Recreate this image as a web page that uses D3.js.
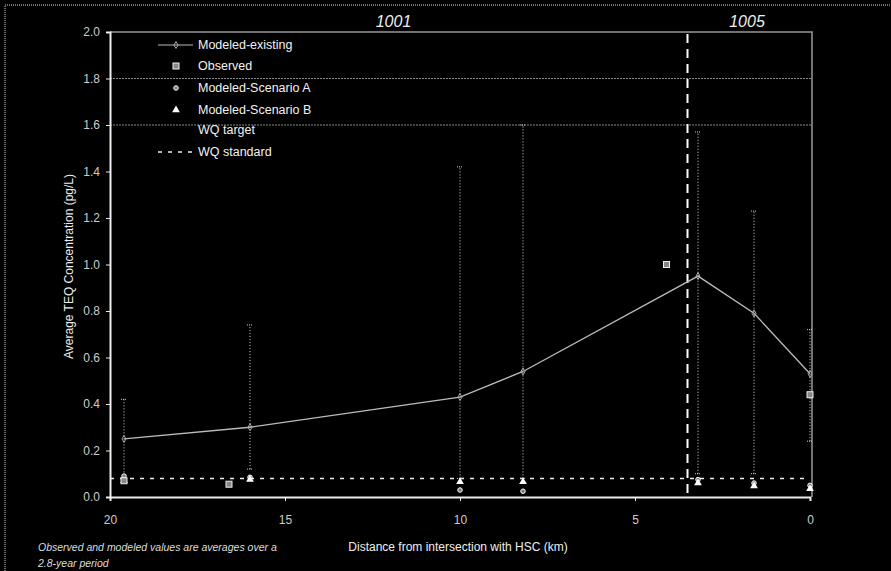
<!DOCTYPE html>
<html>
<head>
<meta charset="utf-8">
<script src="https://cdn.jsdelivr.net/npm/d3@7"></script>
<style>
  body { margin: 0; background: #000; }
  text { font-family: "Liberation Sans", Arial, sans-serif; }
</style>
</head>
<body>
<div id="chart"></div>
<script>
// Data
const modeledDist = [19.6, 16.0, 10.0, 8.2, 3.2, 1.6, 0.0];
const modeledExisting = [0.25, 0.30, 0.43, 0.54, 0.95, 0.79, 0.53];
const errLow = [0.08, 0.12, 0.08, 0.08, 0.10, 0.10, 0.24];
const errHigh = [0.42, 0.74, 1.42, 1.60, 1.57, 1.23, 0.72];

const observedDist = [19.6, 16.6, 4.1, 0.0];
const observed = [0.07, 0.055, 1.0, 0.44];

const scenarioA = [0.09, 0.085, 0.03, 0.025, 0.075, 0.06, 0.05];
const scenarioB = [0.07, 0.075, 0.065, 0.065, 0.06, 0.047, 0.035];

const wqStandard = 0.08;
const gridValues = [1.8, 1.6];
const segmentBreak = 3.5;
const segmentLabels = [{name: "1001", at: 11.9}, {name: "1005", at: 1.8}];

const yTicks = [0, 0.2, 0.4, 0.6, 0.8, 1.0, 1.2, 1.4, 1.6, 1.8, 2.0];
const xTicks = [20, 15, 10, 5, 0];

let width = 891, height = 571;
let margin = {top: 32, bottom: 74, left: 110, right: 81};

let svg = d3.select("#chart")
            .append("svg")
            .attr("width", width)
            .attr("height", height)
            .style("background", "#000");

// outer dotted frame of the scanned page
svg.append("rect")
   .attr("x", 5).attr("y", 5)
   .attr("width", width + 20).attr("height", height + 20)
   .attr("fill", "none")
   .attr("stroke", "#ddd")
   .attr("stroke-dasharray", "1,1");

let x = d3.scaleLinear().domain([20, 0]).range([margin.left, width - margin.right]);
let y = d3.scaleLinear().domain([0, 2]).range([height - margin.bottom, margin.top]);

// plot frame (top and right)
svg.append("path")
   .attr("d", `M${x(20)},${y(2)}H${x(0) + 2}V${y(0)}`)
   .attr("fill", "none")
   .attr("stroke", "#999")
   .attr("stroke-width", 1.5);

// grid lines at 1.8 and 1.6
gridValues.forEach(v => {
  svg.append("line")
     .attr("x1", x(20)).attr("x2", x(0) + 2)
     .attr("y1", y(v)).attr("y2", y(v))
     .attr("stroke", "#8a8a8a")
     .attr("stroke-dasharray", "2,1");
});

// axes
let yaxis = svg.append("g")
               .attr("transform", `translate(${margin.left},0)`)
               .call(d3.axisLeft(y).tickValues(yTicks).tickFormat(d3.format(".1f")).tickSize(4).tickPadding(6));
let xaxis = svg.append("g")
               .attr("transform", `translate(0,${height - margin.bottom})`)
               .call(d3.axisBottom(x).tickValues(xTicks).tickFormat(d3.format("d")).tickSize(4).tickPadding(14));
[yaxis, xaxis].forEach(ax => {
  ax.select(".domain").attr("stroke", "#eee").attr("stroke-width", 2);
  ax.selectAll(".tick line").attr("stroke", "#eee");
  ax.selectAll(".tick text").attr("fill", "#ccc").style("font-size", "12px");
});

// axis titles
svg.append("text")
   .attr("x", 458).attr("y", 551)
   .attr("text-anchor", "middle")
   .attr("fill", "#eee")
   .style("font-size", "12px")
   .text("Distance from intersection with HSC (km)");

svg.append("text")
   .attr("transform", `translate(73,${y(1.0) + 2}) rotate(-90)`)
   .attr("text-anchor", "middle")
   .attr("fill", "#eee")
   .style("font-size", "12px")
   .text("Average TEQ Concentration (pg/L)");

// footnote
svg.append("text")
   .attr("x", 38).attr("y", 551)
   .attr("fill", "#ddd")
   .style("font-size", "10.5px").style("font-style", "italic")
   .text("Observed and modeled values are averages over a");
svg.append("text")
   .attr("x", 38).attr("y", 567)
   .attr("fill", "#ddd")
   .style("font-size", "10.5px").style("font-style", "italic")
   .text("2.8-year period");

// segment divider and labels
svg.append("line")
   .attr("x1", x(segmentBreak)).attr("x2", x(segmentBreak))
   .attr("y1", y(2) + 2).attr("y2", y(0))
   .attr("stroke", "#fff")
   .attr("stroke-width", 2)
   .attr("stroke-dasharray", "9,6");

segmentLabels.forEach(s => {
  svg.append("text")
     .attr("x", x(s.at)).attr("y", 27)
     .attr("text-anchor", "middle")
     .attr("fill", "#eee")
     .style("font-size", "16px").style("font-style", "italic")
     .text(s.name);
});

// WQ standard
svg.append("line")
   .attr("x1", x(20)).attr("x2", x(0))
   .attr("y1", y(wqStandard)).attr("y2", y(wqStandard))
   .attr("stroke", "#eee")
   .attr("stroke-width", 1.5)
   .attr("stroke-dasharray", "4,6");

// error bars
modeledDist.forEach((d, i) => {
  svg.append("line")
     .attr("x1", x(d)).attr("x2", x(d))
     .attr("y1", y(errLow[i])).attr("y2", y(errHigh[i]))
     .attr("stroke", "#ddd")
     .attr("stroke-dasharray", "1,2");
  [errLow[i], errHigh[i]].forEach(v => {
    svg.append("line")
       .attr("x1", x(d) - 3).attr("x2", x(d) + 3)
       .attr("y1", y(v)).attr("y2", y(v))
       .attr("stroke", "#ccc")
       .attr("stroke-dasharray", "1,1");
  });
});

// modeled-existing line
let line = d3.line()
             .x((d, i) => x(modeledDist[i]))
             .y(d => y(d));
svg.append("path")
   .datum(modeledExisting)
   .attr("d", line)
   .attr("fill", "none")
   .attr("stroke", "#bbb")
   .attr("stroke-width", 1.3);

svg.selectAll(".mpt")
   .data(modeledExisting)
   .enter()
   .append("path")
   .attr("d", d3.symbol(d3.symbolDiamond, 14))
   .attr("transform", (d, i) => `translate(${x(modeledDist[i])},${y(d)})`)
   .attr("fill", "none")
   .attr("stroke", "#aaa");

// scenario markers
svg.selectAll(".sa")
   .data(scenarioA)
   .enter()
   .append("path")
   .attr("d", d3.symbol(d3.symbolCircle, 16))
   .attr("transform", (d, i) => `translate(${x(modeledDist[i])},${y(d)})`)
   .attr("fill", "#777")
   .attr("stroke", "#fff");

svg.selectAll(".sb")
   .data(scenarioB)
   .enter()
   .append("path")
   .attr("d", d3.symbol(d3.symbolTriangle, 26))
   .attr("transform", (d, i) => `translate(${x(modeledDist[i])},${y(d)})`)
   .attr("fill", "#fff");

// observed
svg.selectAll(".obs")
   .data(observed)
   .enter()
   .append("rect")
   .attr("x", (d, i) => x(observedDist[i]) - 3)
   .attr("y", d => y(d) - 3)
   .attr("width", 6).attr("height", 6)
   .attr("fill", "#888")
   .attr("stroke", "#eee");

// legend
const legendNames = ["Modeled-existing", "Observed", "Modeled-Scenario A", "Modeled-Scenario B", "WQ target", "WQ standard"];
const legendY = [45, 66, 88, 110, 130, 152];
let legend = svg.append("g");

legendNames.forEach((name, i) => {
  legend.append("text")
        .attr("x", 198).attr("y", legendY[i] + 4)
        .attr("fill", "#f2f2f2")
        .style("font-size", "12.5px")
        .text(name);
});
legend.append("line")
      .attr("x1", 158).attr("x2", 193).attr("y1", 45).attr("y2", 45)
      .attr("stroke", "#bbb");
legend.append("path")
      .attr("d", d3.symbol(d3.symbolDiamond, 14))
      .attr("transform", "translate(176,45)")
      .attr("fill", "none").attr("stroke", "#aaa");
legend.append("rect")
      .attr("x", 173).attr("y", 63).attr("width", 6).attr("height", 6)
      .attr("fill", "#888").attr("stroke", "#eee");
legend.append("path")
      .attr("d", d3.symbol(d3.symbolCircle, 16))
      .attr("transform", "translate(176,88)")
      .attr("fill", "#777").attr("stroke", "#fff");
legend.append("path")
      .attr("d", d3.symbol(d3.symbolTriangle, 26))
      .attr("transform", "translate(176,110)")
      .attr("fill", "#fff");
legend.append("line")
      .attr("x1", 158).attr("x2", 195).attr("y1", 152).attr("y2", 152)
      .attr("stroke", "#eee").attr("stroke-width", 1.5)
      .attr("stroke-dasharray", "4,6");
</script>
</body>
</html>
